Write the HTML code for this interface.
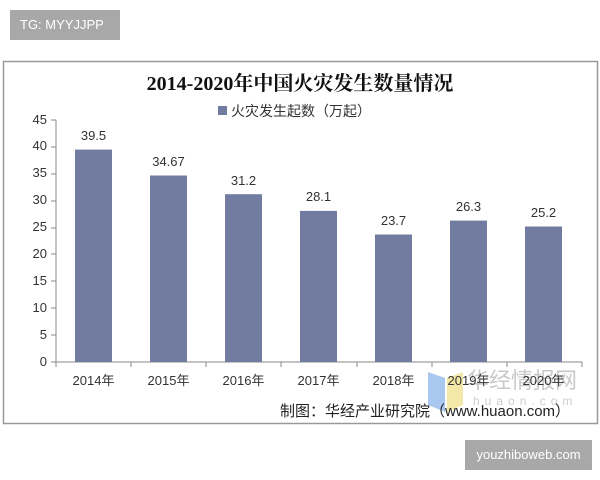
<!DOCTYPE html>
<html><head><meta charset="utf-8"><style>
body{margin:0;width:600px;height:480px;background:#fff;position:relative;overflow:hidden;font-family:"Liberation Sans","Noto Sans CJK SC",sans-serif}
.tg{position:absolute;left:10px;top:10px;width:110px;height:30px;background:#a8a8a8;color:#fff;font-size:13px;line-height:30px;text-indent:10px}
.yz{position:absolute;left:465px;top:440px;width:127px;height:30px;background:#a8a8a8;color:#fff;font-size:13px;line-height:30px;text-align:center}
</style></head><body>
<div class="tg">TG: MYYJJPP</div>
<svg style="position:absolute;left:0;top:0" width="600" height="480" font-family="Liberation Sans, Noto Sans CJK SC, sans-serif">
<rect x="3.5" y="61.5" width="594" height="362" fill="#fff" stroke="#999" stroke-width="1.5"/>
<text x="300" y="90" text-anchor="middle" font-size="20" font-weight="bold" font-family="Liberation Serif, Noto Serif CJK SC, serif" fill="#111">2014-2020年中国火灾发生数量情况</text>
<rect x="218" y="106" width="9" height="9" fill="#727ca0"/>
<text x="231" y="116" font-size="14" fill="#333">火灾发生起数（万起）</text>
<path d="M428 372L445 378V412L428 405Z" fill="#a9c8f0"/>
<path d="M447 378L463 372V405L447 412Z" fill="#f4e8a8"/>
<text x="467" y="388" font-size="22" fill="#bbb" opacity="0.8">华经情报网</text>
<text x="473" y="405" font-size="12" fill="#ccc" letter-spacing="5">huaon.com</text>
<g stroke="#888" stroke-width="1">
<line x1="56" y1="120" x2="56" y2="362"/><line x1="56" y1="362" x2="582" y2="362"/>
</g>
<g font-size="13" fill="#333" text-anchor="end">
<text x="47" y="366">0</text><text x="47" y="339">5</text><text x="47" y="312">10</text><text x="47" y="285">15</text><text x="47" y="258">20</text><text x="47" y="231">25</text><text x="47" y="204">30</text><text x="47" y="177">35</text><text x="47" y="150">40</text><text x="47" y="124">45</text>
</g>
<g stroke="#888"><path d="M51 362H56M51 335H56M51 308H56M51 281H56M51 254H56M51 228H56M51 201H56M51 174H56M51 147H56M51 120H56"/>
<path d="M56 362v5M131 362v5M206 362v5M281 362v5M357 362v5M432 362v5M507 362v5M582 362v5"/></g>
<g fill="#727ca0">
<rect x="75" y="149.6" width="37" height="212.4"/>
<rect x="150" y="175.5" width="37" height="186.5"/>
<rect x="225" y="194.2" width="37" height="167.8"/>
<rect x="300" y="210.9" width="37" height="151.1"/>
<rect x="375" y="234.5" width="37" height="127.5"/>
<rect x="450" y="220.6" width="37" height="141.4"/>
<rect x="525" y="226.5" width="37" height="135.5"/>
</g>
<g font-size="13" fill="#333" text-anchor="middle">
<text x="93.5" y="140">39.5</text><text x="168.5" y="166">34.67</text><text x="243.5" y="185">31.2</text><text x="318.5" y="201">28.1</text><text x="393.5" y="225">23.7</text><text x="468.5" y="211">26.3</text><text x="543.5" y="217">25.2</text>
<text x="93.5" y="385">2014年</text><text x="168.5" y="385">2015年</text><text x="243.5" y="385">2016年</text><text x="318.5" y="385">2017年</text><text x="393.5" y="385">2018年</text><text x="468.5" y="385">2019年</text><text x="543.5" y="385">2020年</text>
</g>
<text x="280" y="416" font-size="15" fill="#222">制图：华经产业研究院（www.huaon.com）</text>
</svg>
<div class="yz">youzhiboweb.com</div>
</body></html>
